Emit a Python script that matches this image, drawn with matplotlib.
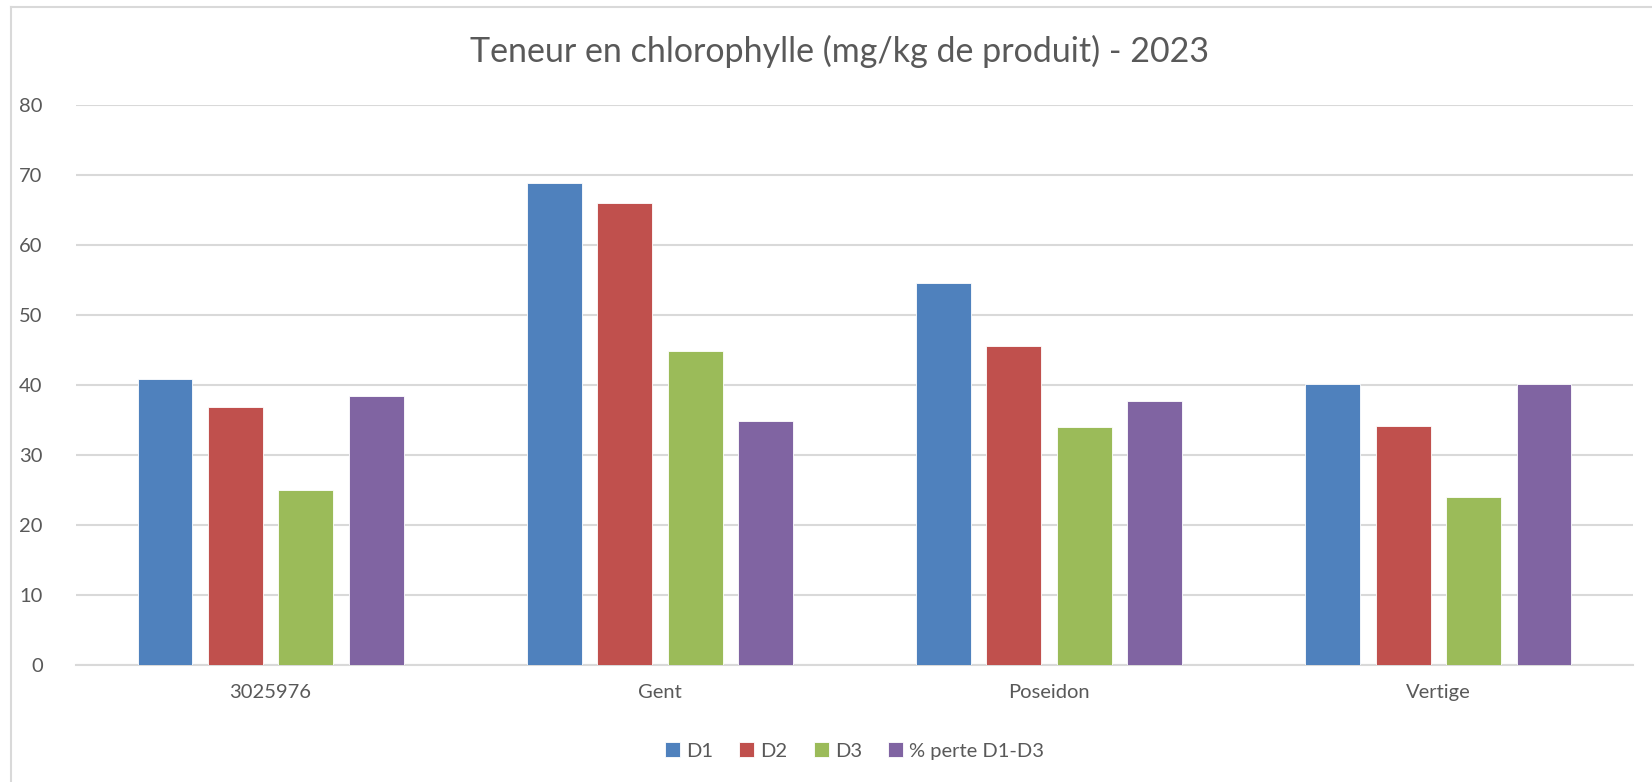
import matplotlib.pyplot as plt
import numpy as np
from matplotlib.lines import Line2D

plt.rcParams['font.family'] = ['Lato', 'DejaVu Sans']

# Data
varieties = ['3025976', 'Gent', 'Poseidon', 'Vertige']
d1 = [40.8, 68.8, 54.6, 40.1]
d2 = [36.8, 66.0, 45.6, 34.2]
d3 = [25.0, 44.8, 34.0, 24.0]
perte = [38.4, 34.9, 37.7, 40.2]

series = [('D1', d1, '#4F81BD'), ('D2', d2, '#C0504D'),
          ('D3', d3, '#9BBB59'), ('% perte D1-D3', perte, '#8064A2')]

text_col = '#595959'
grid_col = '#D9D9D9'

fig = plt.figure(figsize=(16.52, 7.82), dpi=100)
ax = fig.add_axes([76 / 1652, 1 - 665 / 782, (1633 - 76) / 1652, 560 / 782])

x = np.arange(len(varieties))
step = 0.181
width = 0.141
for i, (name, vals, col) in enumerate(series):
    ax.bar(x + (i - 1.5) * step, vals, width, color=col, label=name,
           edgecolor='white', linewidth=0.6, zorder=3)

ax.set_xlim(-0.5, 3.5)
ax.set_ylim(0, 80)
ax.set_yticks(range(0, 81, 10))
ax.set_xticks(x)
ax.set_xticklabels(varieties)
ax.yaxis.grid(True, color=grid_col, linewidth=1.5, zorder=0)
ax.set_axisbelow(True)
for s in ['top', 'right', 'left']:
    ax.spines[s].set_visible(False)
ax.spines['bottom'].set_color(grid_col)
ax.spines['bottom'].set_linewidth(1.5)
ax.tick_params(axis='both', length=0, labelsize=14.5, colors=text_col)
ax.tick_params(axis='y', pad=24)
ax.tick_params(axis='x', pad=14)

fig.text(839 / 1652, 1 - 51 / 782, 'Teneur en chlorophylle (mg/kg de produit) - 2023',
         ha='center', va='center', fontsize=24.5, color=text_col)

ax.legend(loc='center', bbox_to_anchor=(0.5, (665 - 751) / 560), ncol=4, frameon=False,
          fontsize=14.5, labelcolor=text_col, handlelength=0.75, handleheight=0.75,
          handletextpad=0.3, columnspacing=1.3)

# chart border
fig.add_artist(Line2D([10.5 / 1652, 10.5 / 1652], [0, 1 - 6.5 / 782],
                      transform=fig.transFigure, color=grid_col, lw=1.5))
fig.add_artist(Line2D([10.5 / 1652, 1], [1 - 6.5 / 782, 1 - 6.5 / 782],
                      transform=fig.transFigure, color=grid_col, lw=1.5))

fig.savefig('out.png', dpi=100)
